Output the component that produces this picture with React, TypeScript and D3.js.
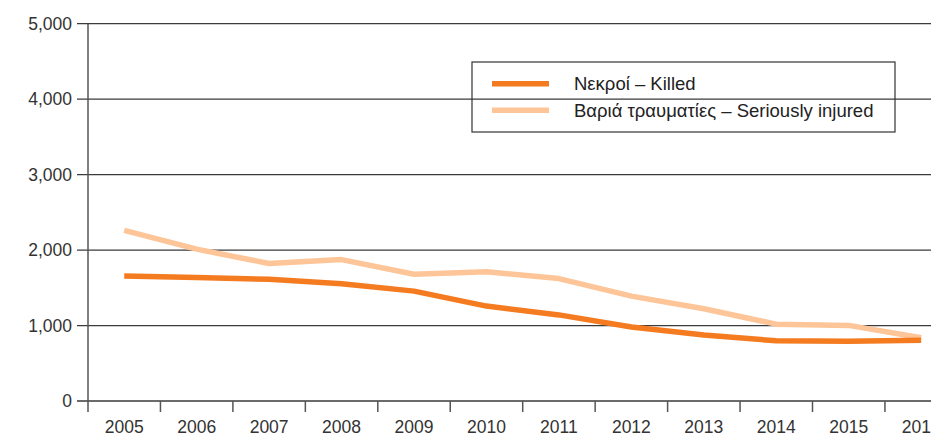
import React from "react";
import * as d3 from "d3";

const years = ["2005", "2006", "2007", "2008", "2009", "2010", "2011", "2012", "2013", "2014", "2015", "2016"];
const killed = [1658, 1638, 1612, 1553, 1456, 1258, 1141, 980, 875, 797, 792, 805];
const injured = [2260, 2012, 1822, 1874, 1680, 1712, 1622, 1390, 1222, 1018, 1002, 838];
const yTicks = [0, 1000, 2000, 3000, 4000, 5000];
const seriesNames = ["Νεκροί – Killed", "Βαριά τραυματίες – Seriously injured"];
const seriesColors = ["#F47B20", "#FDC598"];

const W = 931;
const H = 435;
const left = 88;
const bandW = 72.45;
const top = 23.7;
const bottom = 401;

export default function App() {
  const x = d3.scaleBand<string>().domain(years).range([left, left + bandW * years.length]).padding(0);
  const y = d3.scaleLinear().domain([0, 5000]).range([bottom, top]);
  const line = d3
    .line<number>()
    .x((_, i) => (x(years[i]) as number) + x.bandwidth() / 2)
    .y((d) => y(d));
  const font = "'Liberation Sans', Arial, Helvetica, sans-serif";
  const series = [killed, injured];
  const legX = 472, legY = 62, legW = 423, legH = 70;
  return (
    <div style={{ position: "absolute", left: 0, top: 0, width: W, height: H, overflow: "hidden", background: "#fff" }}>
      <svg width={W} height={H} style={{ display: "block" }} fontFamily={font}>
        {yTicks.map((t) => (
          <g key={t}>
            <line x1={77} x2={W} y1={y(t)} y2={y(t)} stroke="#3a3a3a" strokeWidth={1.3} />
            <text x={72} y={y(t)} dy="0.35em" textAnchor="end" fontSize={17.5} fill="#333">
              {d3.format(",")(t)}
            </text>
          </g>
        ))}
        <line x1={left} x2={left} y1={top} y2={412} stroke="#555" strokeWidth={1.5} />
        {years.map((yr, i) => (
          <g key={yr}>
            {i > 0 && (
              <line x1={x(yr) as number} x2={x(yr) as number} y1={bottom} y2={412} stroke="#555" strokeWidth={1.5} />
            )}
            <text x={(x(yr) as number) + x.bandwidth() / 2} y={432.5} textAnchor="middle" fontSize={17.5} fill="#333">
              {yr}
            </text>
          </g>
        ))}
        <line x1={x("2016") as number + bandW} x2={x("2016") as number + bandW} y1={bottom} y2={412} stroke="#555" strokeWidth={1.5} />
        {[1, 0].map((si) => (
          <path key={si} d={line(series[si]) || ""} fill="none" stroke={seriesColors[si]} strokeWidth={5.5} strokeLinejoin="round" />
        ))}
        <rect x={legX} y={legY} width={legW} height={legH} fill="none" stroke="#333" strokeWidth={1.2} />
        {seriesNames.map((n, i) => (
          <g key={n}>
            <line x1={492} x2={549} y1={83.7 + i * 26.6} y2={83.7 + i * 26.6} stroke={seriesColors[i]} strokeWidth={5.5} />
            <text x={574} y={83.7 + i * 26.6} dy="0.35em" fontSize={18.5} fill="#222">
              {n}
            </text>
          </g>
        ))}
      </svg>
    </div>
  );
}
